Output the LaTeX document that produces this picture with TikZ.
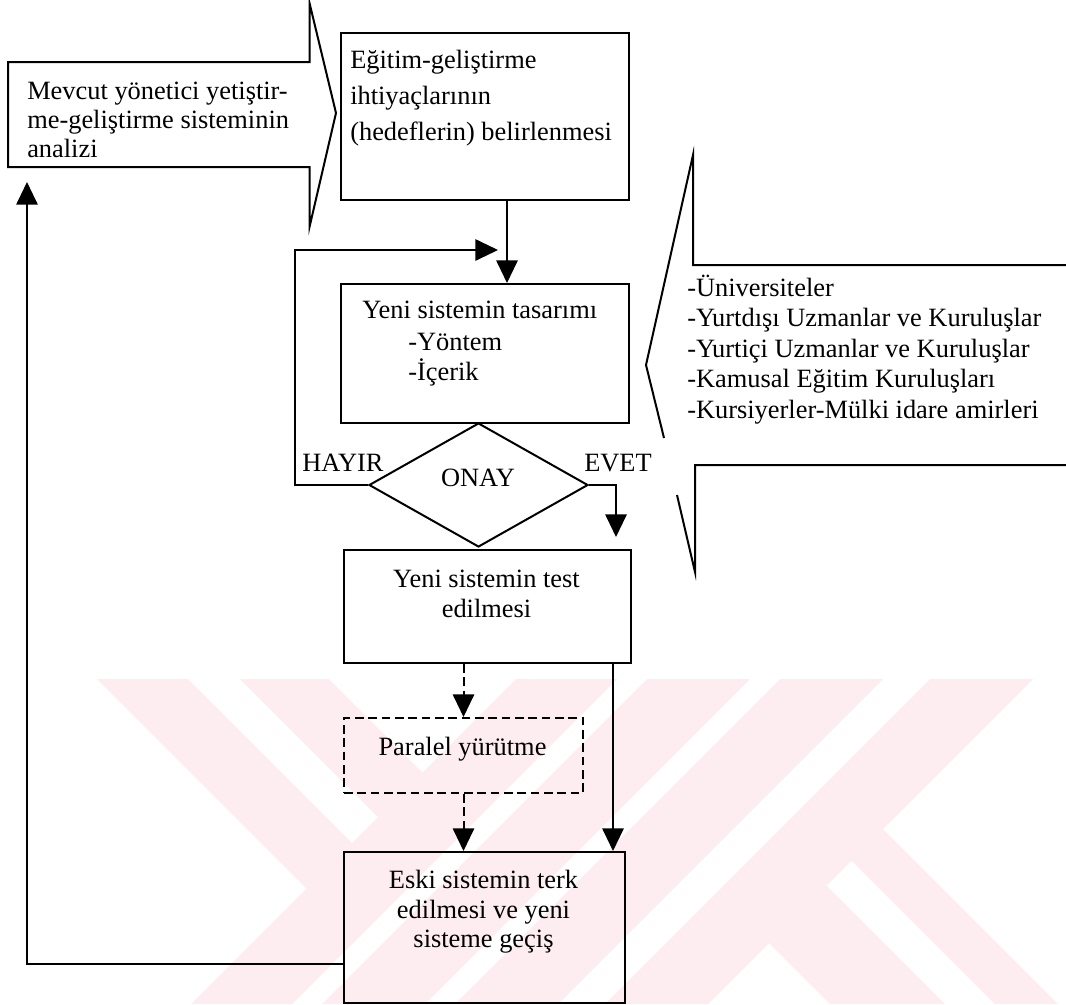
\documentclass[tikz,border=0pt]{standalone}
\usepackage{fontspec}
\setmainfont{Liberation Serif}
\usetikzlibrary{arrows.meta,shapes.geometric}
\definecolor{wmpink}{RGB}{253,237,240}
\begin{document}
\begin{tikzpicture}[x=0.75pt,y=-0.75pt,
  every node/.style={font=\fontsize{19.8pt}{22pt}\selectfont, inner sep=0pt},
  outline/.style={line width=1.5pt, line join=miter},
  box/.style={draw, line width=1.5pt, rectangle, anchor=north west},
  dashbox/.style={box, dash pattern=on 6.5pt off 3.5pt},
  conn/.style={line width=1.5pt, -{Triangle[length=17pt,width=16pt]}},
  dconn/.style={conn, dash pattern=on 6.5pt off 3.5pt},
  txt/.style={anchor=base west},
  ctxt/.style={anchor=base},
]
\useasboundingbox (0,0) rectangle (1066,1004);

% faint background emblem made of diagonal bars
\begin{scope}
  \clip (0,679) rectangle (1066,1004);
  \fill[wmpink] (516,679) -- (617,679) -- (292,1004) -- (191,1004) -- cycle;
  \fill[wmpink] (647,679) -- (750,679) -- (425,1004) -- (322,1004) -- cycle;
  \fill[wmpink] (780,679) -- (883,679) -- (558,1004) -- (455,1004) -- cycle;
  \fill[wmpink] (930,679) -- (1033,679) -- (708,1004) -- (605,1004) -- cycle;
  \fill[wmpink] (97,679) -- (188,679) -- (354,845) -- (308.5,890.5) -- cycle;
  \fill[wmpink] (240,679) -- (329,679) -- (424.5,774.5) -- (380,819) -- cycle;
  \fill[wmpink] (767,941) -- (824.5,883.5) -- (945,1004) -- (830,1004) -- cycle;
  \fill[wmpink] (849.5,858.5) -- (881,827) -- (1058,1004) -- (995,1004) -- cycle;
\end{scope}

% block arrow on the left
\draw[outline] (8,62) -- (309.5,62) -- (309.5,3) -- (336,113) -- (309.5,227) -- (309.5,167) -- (8,167) -- cycle;
\node[txt] (cur1) at (27,99) {Mevcut yönetici yetiştir-};
\node[txt] (cur2) at (27,128) {me-geliştirme sisteminin};
\node[txt] (cur3) at (27,157) {analizi};

% process boxes
\node[box, minimum width=216pt, minimum height=125.25pt] (goals) at (340,32) {};
\node[txt] (goals1) at (350,68) {Eğitim-geliştirme};
\node[txt] (goals2) at (350,104) {ihtiyaçlarının};
\node[txt] (goals3) at (350,140) {(hedeflerin) belirlenmesi};

\node[box, minimum width=216pt, minimum height=104.25pt] (design) at (340,283) {};
\node[txt] (design1) at (362,318) {Yeni sistemin tasarımı};
\node[txt] (design2) at (408,350) {-Yöntem};
\node[txt] (design3) at (408,380) {-İçerik};

\node[draw, line width=1.5pt, diamond, minimum width=164.25pt, minimum height=93pt] (approve) at (478.5,485) {};
\node[ctxt] (approvetxt) at (478,486) {ONAY};
\node[ctxt] (no) at (343,471) {HAYIR};
\node[txt] (yes) at (584,471) {EVET};

\node[box, minimum width=215.25pt, minimum height=84.75pt] (test) at (343,549) {};
\node[ctxt] (test1) at (486.5,587) {Yeni sistemin test};
\node[ctxt] (test2) at (486.5,617) {edilmesi};

\node[dashbox, minimum width=179.25pt, minimum height=56.25pt] (parallel) at (343,717) {};
\node[ctxt] (parallel1) at (462.5,755) {Paralel yürütme};

\node[box, minimum width=210.75pt, minimum height=113.25pt] (switch) at (343,851) {};
\node[ctxt] (switch1) at (483.5,888) {Eski sistemin terk};
\node[ctxt] (switch2) at (483.5,918) {edilmesi ve yeni};
\node[ctxt] (switch3) at (483.5,947) {sisteme geçiş};

% callout listing the sources
\draw[outline] (1066,265) -- (693,265) -- (693,155) -- (646,365) -- (664,438);
\draw[outline] (677,495) -- (695,572) -- (695,465) -- (1066,465);
\node[txt] (src1) at (687,296) {-Üniversiteler};
\node[txt] (src2) at (687,326.5) {-Yurtdışı Uzmanlar ve Kuruluşlar};
\node[txt] (src3) at (687,357) {-Yurtiçi Uzmanlar ve Kuruluşlar};
\node[txt] (src4) at (687,387.5) {-Kamusal Eğitim Kuruluşları};
\node[txt] (src5) at (687,418) {-Kursiyerler-Mülki idare amirleri};

% connectors
\coordinate (inA) at (507,0);
\draw[conn] (goals.south -| inA) -- (design.north -| inA);
\coordinate (loopx) at (295,250);
\coordinate (loopend) at (498,250);
\draw[conn] (approve.west) -| (loopx) -- (loopend);
\coordinate (yesend) at (616,537);
\draw[conn] (approve.east) -| (yesend);
\draw[dconn] (test.south -| parallel.north) -- (parallel.north);
\draw[dconn] (parallel.south) -- (switch.north -| parallel.south);
\coordinate (byx) at (613,0);
\draw[conn] (test.south -| byx) -- (switch.north -| byx);
\coordinate (fbturn) at (27,964);
\coordinate (fbend) at (27,182);
\draw[conn] (switch.west |- fbturn) -- (fbturn) -- (fbend);
\end{tikzpicture}
\end{document}
